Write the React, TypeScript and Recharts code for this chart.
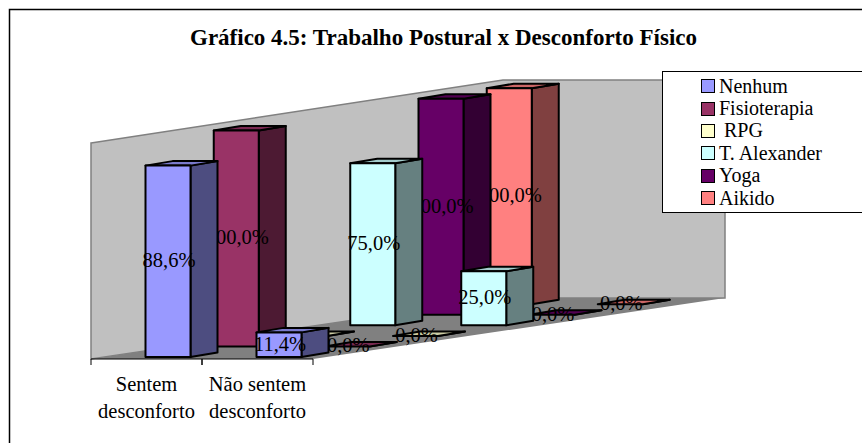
import { Bar, BarChart, Legend, XAxis, YAxis } from "recharts";

const categories = ["Sentem desconforto", "Não sentem desconforto"];
const seriesNames = ["Nenhum", "Fisioterapia", "RPG", "T. Alexander", "Yoga", "Aikido"];
const legendLabels = ["Nenhum", "Fisioterapia", "\u00a0RPG", "T. Alexander", "Yoga", "Aikido"];
const nenhum = [88.6, 11.4];
const fisioterapia = [100, 0];
const rpg = [0, 0];
const tAlexander = [75, 25];
const yoga = [100, 0];
const aikido = [100, 0];
const seriesValues = [nenhum, fisioterapia, rpg, tAlexander, yoga, aikido];
// front, side, top
const seriesColors = [
  ["#9999ff", "#4d4d80", "#7a7acc"],
  ["#993366", "#4d1a33", "#7a2952"],
  ["#ffffcc", "#808066", "#ccccA3"],
  ["#ccffff", "#668080", "#a3cccc"],
  ["#660066", "#330033", "#520052"],
  ["#ff8080", "#804040", "#cc6666"],
];

const table = categories.map((name, c) => {
  const row: Record<string, string | number> = { name };
  seriesNames.forEach((s, i) => (row[s] = seriesValues[i][c]));
  return row;
});

const WIDTH = 862;
const HEIGHT = 443;
const PLOT = { left: 91, right: 313, top: 143, bottom: 359 };
const BAR_W = 45;
const FONT = '"Liberation Serif", "Times New Roman", serif';

// 3D look: each series sits further back on the floor
const START_X = 21.5;
const START_Y = -2;
const STEP_X = 68.25;
const STEP_Y = -10.55;
const SIDE_X = 27;
const SIDE_Y = -4.5;

const pct = (v: number) => v.toFixed(1).replace(".", ",") + "%";

function makeBox(index: number) {
  const [front, side, top] = seriesColors[index];
  return function Box3D(props: any) {
    const h = props.height || 0;
    const x = props.x + START_X + index * STEP_X;
    const y = props.y + START_Y + index * STEP_Y;
    const w = props.width;
    const value = props.value as number;
    const line = { stroke: "#000", strokeWidth: 2, strokeLinejoin: "round" as const };
    return (
      <g>
        <polygon
          points={`${x + w},${y} ${x + w + SIDE_X},${y + SIDE_Y} ${x + w + SIDE_X},${y + h + SIDE_Y} ${x + w},${y + h}`}
          fill={side}
          {...line}
        />
        <polygon
          points={`${x},${y} ${x + SIDE_X},${y + SIDE_Y} ${x + w + SIDE_X},${y + SIDE_Y} ${x + w},${y}`}
          fill={top}
          {...line}
        />
        <rect x={x} y={y} width={w} height={h} fill={front} {...line} />
        <text
          x={x + w / 2 + 1}
          y={y + h / 2 - 1}
          textAnchor="middle"
          dominantBaseline="central"
          fontFamily={FONT}
          fontSize={20.5}
          fill="#000"
        >
          {pct(value)}
        </text>
      </g>
    );
  };
}

function CategoryTick({ x, payload }: any) {
  const half = (PLOT.right - PLOT.left) / categories.length / 2;
  const text: string = payload.value;
  const cut = text.lastIndexOf(" ");
  return (
    <g>
      <line x1={x - half} x2={x - half} y1={PLOT.bottom} y2={PLOT.bottom + 6} stroke="#000" />
      <line x1={x + half} x2={x + half} y1={PLOT.bottom} y2={PLOT.bottom + 6} stroke="#000" />
      <text x={x} y={PLOT.bottom} textAnchor="middle" fontFamily={FONT} fontSize={20.5} fill="#000">
        <tspan x={x} dy={32}>{text.slice(0, cut)}</tspan>
        <tspan x={x} dy={27}>{text.slice(cut + 1)}</tspan>
      </text>
    </g>
  );
}

function LegendBox() {
  return (
    <div
      style={{
        boxSizing: "border-box",
        width: 210,
        height: 142,
        background: "#fff",
        border: "1px solid #000",
        paddingTop: 3,
        fontFamily: FONT,
        fontSize: 20,
        color: "#000",
      }}
    >
      {legendLabels.map((label, i) => (
        <div key={label} style={{ display: "flex", alignItems: "center", height: 22.4, paddingLeft: 38 }}>
          <span
            style={{
              boxSizing: "border-box",
              width: 14,
              height: 14,
              marginRight: 4,
              background: seriesColors[i][0],
              border: "1.5px solid #000",
            }}
          />
          <span style={{ whiteSpace: "pre" }}>{label}</span>
        </div>
      ))}
    </div>
  );
}

export default function App() {
  return (
    <div style={{ position: "absolute", left: 0, top: 0, width: WIDTH, height: HEIGHT, overflow: "hidden", background: "#fff" }}>
      <svg width={WIDTH} height={HEIGHT} style={{ position: "absolute", left: 0, top: 0 }}>
        <path d={`M9.5 ${HEIGHT} V9.5 H${WIDTH}`} fill="none" stroke="#000" strokeWidth={1.5} />
        <polygon
          points="91,143 503,80 725,80 725,298 503,298 91,359"
          fill="#c0c0c0"
          stroke="#808080"
          strokeWidth={1.5}
        />
        <polygon points="91,359 503,298 725,298 313,359" fill="#808080" />
        <text x={443.5} y={45} textAnchor="middle" fontFamily={FONT} fontSize={23} fontWeight="bold" fill="#000">
          Gráfico 4.5: Trabalho Postural x Desconforto Físico
        </text>
      </svg>
      <div style={{ position: "absolute", left: 0, top: 0 }}>
        <BarChart
          width={WIDTH}
          height={HEIGHT}
          data={table}
          barSize={BAR_W}
          barGap={-BAR_W}
          margin={{ left: PLOT.left, right: WIDTH - PLOT.right, top: PLOT.top, bottom: 0 }}
        >
          <XAxis
            dataKey="name"
            axisLine={{ stroke: "#000" }}
            tickLine={false}
            interval={0}
            height={HEIGHT - PLOT.bottom}
            tick={<CategoryTick />}
          />
          <YAxis hide domain={[0, 100]} />
          {/* back row first, so nearer boxes cover it */}
          {[5, 4, 3, 2, 1, 0].map((i) => (
            <Bar key={seriesNames[i]} dataKey={seriesNames[i]} isAnimationActive={false} shape={makeBox(i)} />
          ))}
          <Legend
            layout="vertical"
            align="center"
            verticalAlign="middle"
            content={<LegendBox />}
            wrapperStyle={{ left: 662, top: 71, width: 210, height: 142, margin: 0 }}
          />
        </BarChart>
      </div>
    </div>
  );
}
